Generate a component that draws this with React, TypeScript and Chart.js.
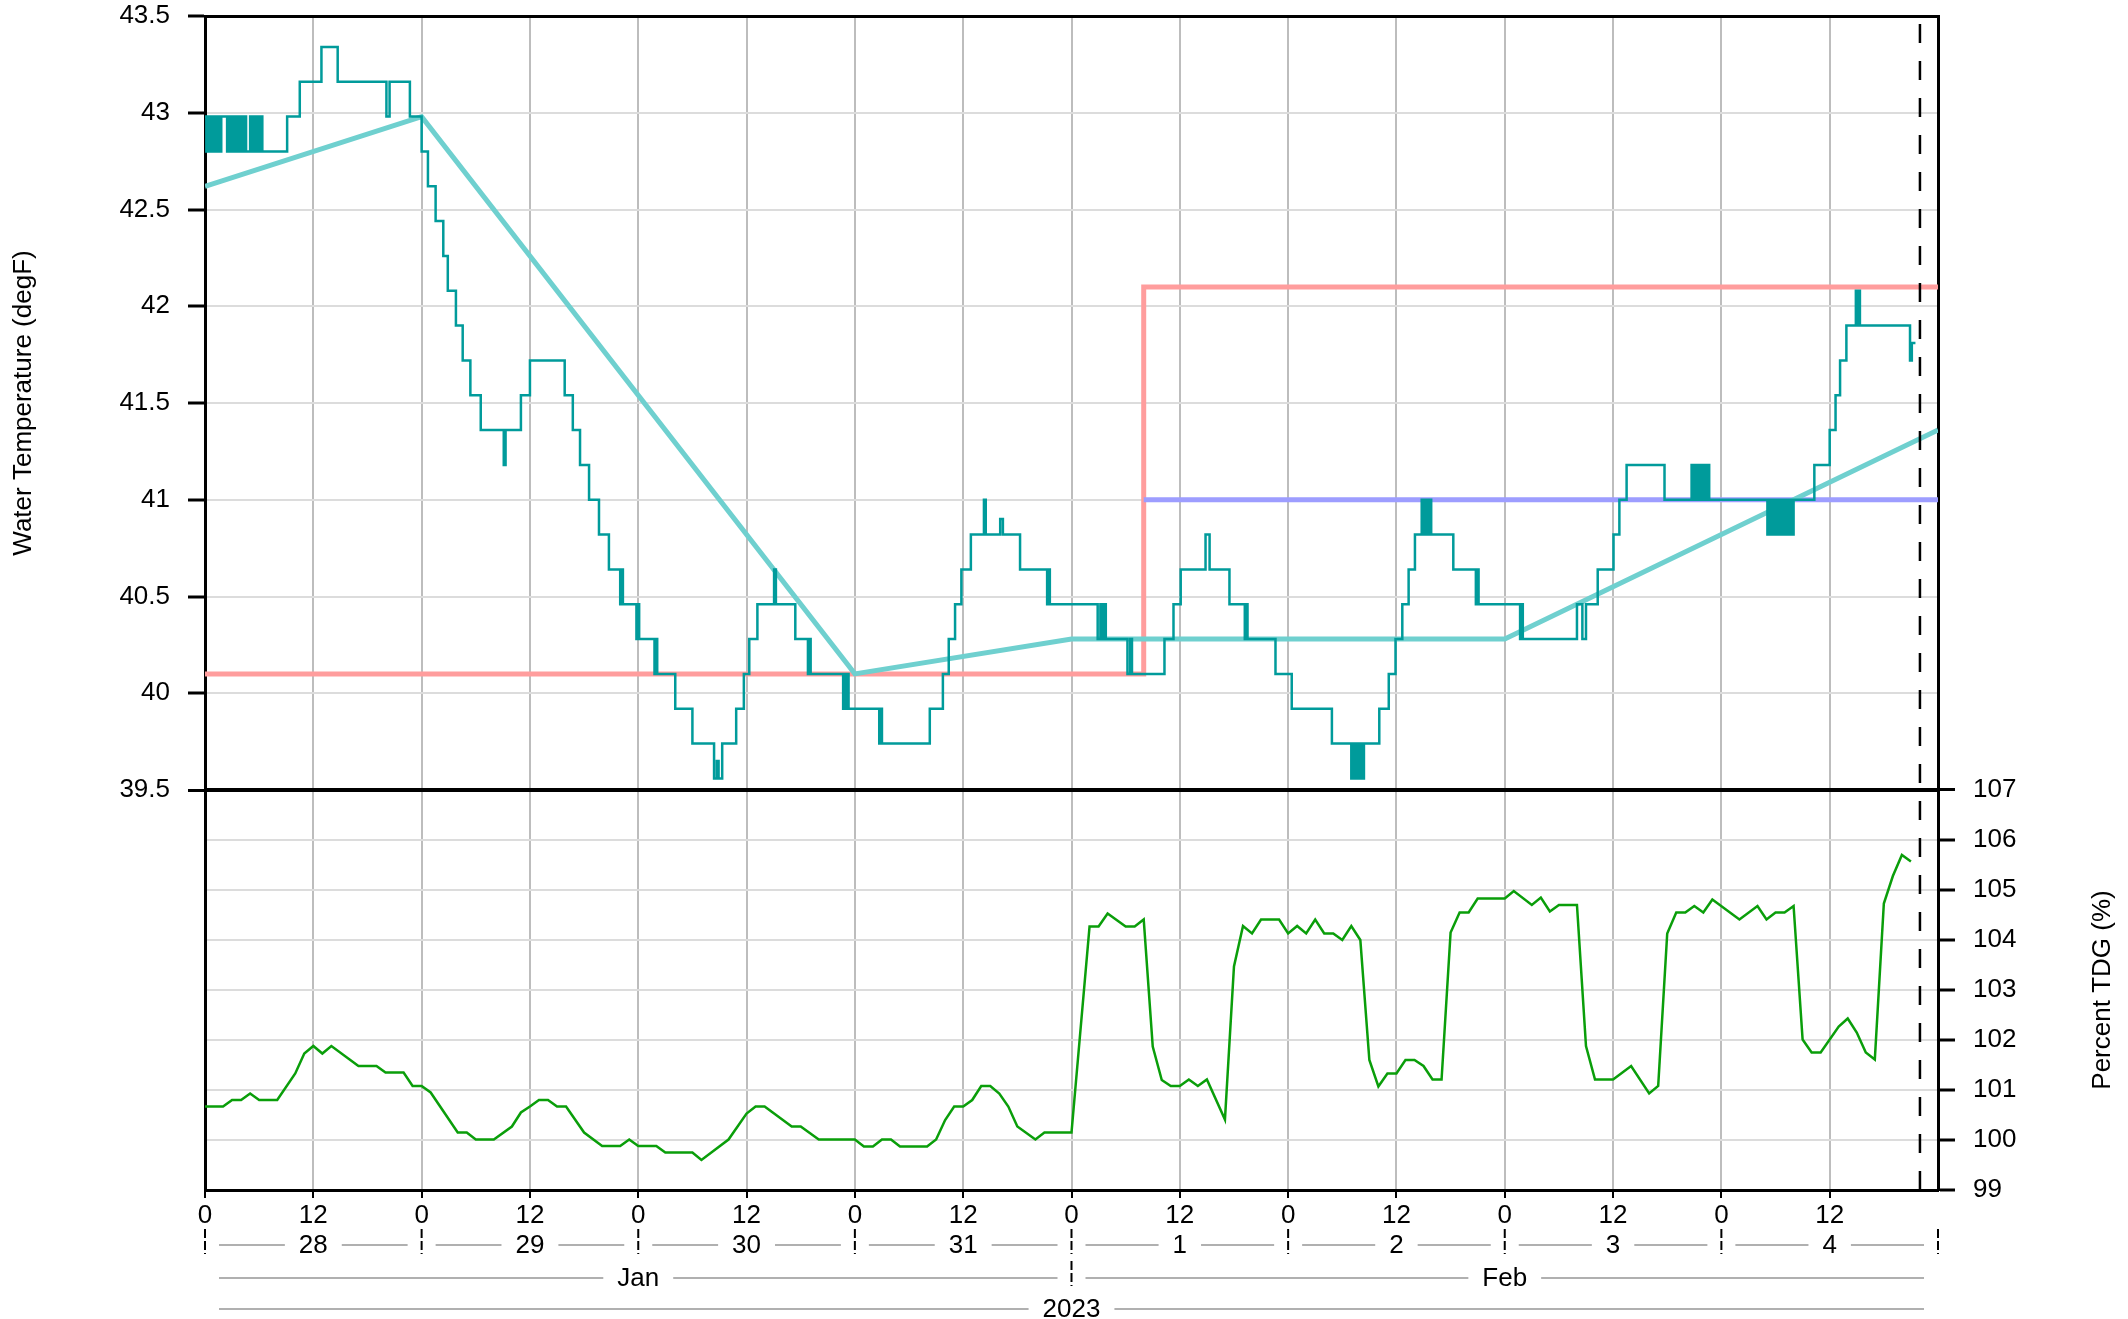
import React, { useEffect, useRef } from 'react';
import { Chart, registerables } from 'chart.js';

Chart.register(...registerables);

const FONT = '"Liberation Sans", Arial, Helvetica, sans-serif';

// ---- time axis (hours since 2023-01-28 00:00) ----
const HOUR_MIN = 0;
const HOUR_MAX = 192;
const HOUR_STEP = 12;
const HOUR_LABELS = ['0', '12'];
const DAY_LABELS = ['28', '29', '30', '31', '1', '2', '3', '4'];
const MONTH_LABELS = ['Jan', 'Feb'];
const MONTH_START_HOURS = [0, 96];
const YEAR_LABEL = '2023';
const NOW_HOUR = 190;

// ---- axes ----
const TEMP_TITLE = 'Water Temperature (degF)';
const TEMP_MIN = 39.5;
const TEMP_MAX = 43.5;
const TEMP_STEP = 0.5;
const TDG_TITLE = 'Percent TDG (%)';
const TDG_MIN = 99;
const TDG_MAX = 107;
const TDG_STEP = 1;

// ---- water temperature (change points, value holds until next point) ----
const TEMP_HOURS = [
  0, 0.15, 0.3, 0.45, 0.6, 0.75, 0.9, 1.05, 1.2, 1.35, 1.5, 1.65, 1.8, 2.45, 2.6, 2.75, 2.9, 3.05, 3.2, 3.35, 3.5,
  3.65, 3.8, 3.95, 4.1, 4.25, 4.4, 4.55, 5.0, 5.15, 5.3, 5.45, 5.6, 5.75, 5.9, 6.05, 6.2, 6.35, 6.45,
  9.1, 10.5, 12.9, 14.7, 20.1, 20.45, 22.7, 24.0, 24.7, 25.55, 26.4, 26.9, 27.8, 28.55, 29.4, 30.55, 33.1, 33.3, 35.0,
  36.0, 39.85, 40.75, 41.55, 42.55, 43.65, 44.75, 46.0, 46.15, 46.3, 47.8, 47.95, 48.1, 49.8, 49.95, 50.1, 52.1, 54.0,
  56.4, 56.7, 56.9, 57.3, 58.85, 59.7, 60.3, 61.2, 63.05, 63.25, 65.4, 66.8, 66.95, 67.1, 70.7, 70.85, 71.0, 71.15,
  71.3, 71.5, 74.7, 74.85, 75.0, 75.15, 80.3, 81.75, 82.4, 83.1, 83.8, 84.85, 86.3, 86.5, 88.1, 88.4, 90.3, 93.3,
  93.45, 93.6, 93.75, 98.9, 99.2, 99.4, 99.6, 99.8, 102.2, 102.5, 102.7, 106.3, 107.3, 108.1, 110.85, 111.3, 113.5,
  115.2, 115.35, 115.5, 115.65, 118.6, 120.4, 124.85, 127.0, 127.2, 127.4, 127.6, 127.8, 128.0, 128.2, 128.4, 128.6,
  130.1, 131.15, 131.9, 132.65, 133.35, 134.05, 134.8, 134.95, 135.1, 135.25, 135.4, 135.55, 135.7, 135.85, 136.0,
  138.3, 140.8, 140.95, 141.1, 141.25, 145.7, 145.85, 146.0, 146.15, 152.0, 152.6, 153.0, 154.3, 156.05, 156.7,
  157.5, 161.7, 164.7, 164.85, 165.0, 165.15, 165.3, 165.45, 165.6, 165.75, 165.9, 166.05, 166.2, 166.35, 166.5,
  166.65, 166.8, 173.1, 173.25, 173.4, 173.55, 173.7, 173.85, 174.0, 174.15, 174.3, 174.5, 174.65, 174.8, 174.95,
  175.1, 175.25, 175.4, 175.55, 175.7, 175.85, 176.0, 176.15, 178.3, 180.0, 180.65, 181.15, 181.85, 182.9, 183.05,
  183.2, 183.35, 183.5, 188.9, 189.1, 189.5,
];
const TEMP_VALUES = [
  42.98, 42.8, 42.98, 42.8, 42.98, 42.8, 42.98, 42.8, 42.98, 42.8, 42.98, 42.8, 42.98, 42.8, 42.98, 42.8, 42.98, 42.8, 42.98, 42.8, 42.98,
  42.8, 42.98, 42.8, 42.98, 42.8, 42.98, 42.8, 42.98, 42.8, 42.98, 42.8, 42.98, 42.8, 42.98, 42.8, 42.98, 42.8, 42.8,
  42.98, 43.16, 43.34, 43.16, 42.98, 43.16, 42.98, 42.8, 42.62, 42.44, 42.26, 42.08, 41.9, 41.72, 41.54, 41.36, 41.18, 41.36, 41.54,
  41.72, 41.54, 41.36, 41.18, 41.0, 40.82, 40.64, 40.46, 40.64, 40.46, 40.28, 40.46, 40.28, 40.1, 40.28, 40.1, 39.92, 39.74,
  39.56, 39.65, 39.56, 39.74, 39.92, 40.1, 40.28, 40.46, 40.64, 40.46, 40.28, 40.1, 40.28, 40.1, 39.92, 40.1, 39.92, 40.1,
  39.92, 39.92, 39.74, 39.92, 39.74, 39.74, 39.92, 40.1, 40.28, 40.46, 40.64, 40.82, 41.0, 40.82, 40.9, 40.82, 40.64, 40.46,
  40.64, 40.46, 40.46, 40.28, 40.46, 40.28, 40.46, 40.28, 40.1, 40.28, 40.1, 40.28, 40.46, 40.64, 40.82, 40.64, 40.46,
  40.28, 40.46, 40.28, 40.28, 40.1, 39.92, 39.74, 39.56, 39.74, 39.56, 39.74, 39.56, 39.74, 39.56, 39.74, 39.74,
  39.92, 40.1, 40.28, 40.46, 40.64, 40.82, 41.0, 40.82, 41.0, 40.82, 41.0, 40.82, 41.0, 40.82, 40.82,
  40.64, 40.46, 40.64, 40.46, 40.46, 40.28, 40.46, 40.28, 40.28, 40.46, 40.28, 40.46, 40.64, 40.82, 41.0,
  41.18, 41.0, 41.18, 41.0, 41.18, 41.0, 41.18, 41.0, 41.18, 41.0, 41.18, 41.0, 41.18, 41.0, 41.18,
  41.0, 41.0, 40.82, 41.0, 40.82, 41.0, 40.82, 41.0, 40.82, 41.0, 40.82, 41.0, 40.82, 41.0, 40.82,
  41.0, 40.82, 41.0, 40.82, 41.0, 40.82, 41.0, 41.0, 41.18, 41.36, 41.54, 41.72, 41.9, 42.08, 41.9,
  42.08, 41.9, 41.9, 41.72, 41.81, 41.81,
];

// ---- 7-day average temperature ----
const AVG_HOURS = [0, 24, 72, 96, 144, 192];
const AVG_VALUES = [42.62, 42.98, 40.1, 40.28, 40.28, 41.36];

// ---- criteria lines ----
const CRITERIA_HOURS = [0, 104, 104, 192];
const CRITERIA_VALUES = [40.1, 40.1, 42.1, 42.1];
const TARGET_HOURS = [104, 192];
const TARGET_VALUES = [41.0, 41.0];

// ---- percent TDG ----
const TDG_HOURS = [
  0, 2, 3, 4, 5, 6, 8, 10, 11, 12, 13, 14, 17, 19, 20, 22, 23, 24, 25, 28, 29, 30, 32, 34, 35, 36, 37, 38, 39, 40,
  42, 44, 46, 47, 48, 50, 51, 54, 55, 58, 60, 61, 62, 65, 66, 68, 72, 73, 74, 75, 76, 77, 80, 81, 82, 83, 84, 85, 86,
  87, 88, 89, 90, 92, 93, 96, 98, 99, 100, 102, 103, 104, 105, 106, 107, 108, 109, 110, 111, 113, 114, 115, 116, 117,
  119, 120, 121, 122, 123, 124, 125, 126, 127, 128, 129, 130, 131, 132, 133, 134, 135, 136, 137, 138, 139, 140, 141,
  144, 145, 147, 148, 149, 150, 152, 153, 154, 156, 158, 160, 161, 162, 163, 164, 165, 166, 167, 170, 172, 173, 174,
  175, 176, 177, 178, 179, 181, 182, 183, 184, 185, 186, 187, 188, 189,
];
const TDG_VALUES = [
  100.67, 100.67, 100.8, 100.8, 100.93, 100.8, 100.8, 101.33, 101.73, 101.88, 101.73, 101.88, 101.48, 101.48, 101.35,
  101.35, 101.08, 101.08, 100.95, 100.15, 100.15, 100.01, 100.01, 100.27, 100.55, 100.67, 100.8, 100.8, 100.67, 100.67,
  100.15, 99.88, 99.88, 100.01, 99.88, 99.88, 99.75, 99.75, 99.6, 100.01, 100.53, 100.67, 100.67, 100.27, 100.27,
  100.01, 100.01, 99.87, 99.87, 100.01, 100.01, 99.87, 99.87, 100.01, 100.4, 100.67, 100.67, 100.8, 101.08, 101.08,
  100.93, 100.67, 100.27, 100.01, 100.15, 100.15, 104.27, 104.27, 104.53, 104.27, 104.27, 104.41, 101.87, 101.2,
  101.08, 101.08, 101.21, 101.08, 101.21, 100.41, 103.47, 104.28, 104.13, 104.41, 104.41, 104.13, 104.28, 104.13,
  104.41, 104.13, 104.13, 104.0, 104.28, 104.0, 101.6, 101.07, 101.33, 101.33, 101.6, 101.6, 101.48, 101.21, 101.21,
  104.15, 104.55, 104.55, 104.83, 104.83, 104.98, 104.7, 104.85, 104.57, 104.7, 104.7, 101.88, 101.21, 101.21, 101.48,
  100.93, 101.08, 104.13, 104.55, 104.55, 104.68, 104.55, 104.81, 104.41, 104.68, 104.41, 104.55, 104.55, 104.68,
  102.01, 101.75, 101.75, 102.27, 102.43, 102.15, 101.75, 101.61, 104.73, 105.28, 105.7, 105.57,
];

// ---- layout (share of the plot height used by the temperature panel) ----
const TOP_SHARE = 774 / 1174;

const pts = (xs: number[], ys: number[]) => xs.map((x, i) => ({ x, y: ys[i] }));
const near = (a: number, b: number) => Math.abs(a - b) < 1e-6;

const decorPlugin = {
  id: 'decor',
  afterDraw(chart: any) {
    const { ctx, chartArea, scales } = chart;
    const xs = scales.x;
    const ys = scales.y;
    const ys2 = scales.y2;
    ctx.save();

    // "now" dashed line
    const nx = xs.getPixelForValue(NOW_HOUR);
    ctx.strokeStyle = '#000';
    ctx.lineWidth = 2.5;
    ctx.setLineDash([19, 18]);
    ctx.lineDashOffset = 29;
    ctx.beginPath();
    ctx.moveTo(nx, chartArea.top);
    ctx.lineTo(nx, chartArea.bottom);
    ctx.stroke();
    ctx.setLineDash([]);
    ctx.lineDashOffset = 0;

    ctx.font = `26px ${FONT}`;
    ctx.fillStyle = '#000';
    ctx.textAlign = 'center';
    ctx.textBaseline = 'middle';

    // axis titles
    const t1 = (ys.getPixelForValue(TEMP_MIN) + ys.getPixelForValue(TEMP_MAX)) / 2;
    ctx.save();
    ctx.translate(24, t1);
    ctx.rotate(-Math.PI / 2);
    ctx.fillText(TEMP_TITLE, 0, 0);
    ctx.restore();
    const t2 = (ys2.getPixelForValue(TDG_MIN) + ys2.getPixelForValue(TDG_MAX)) / 2;
    ctx.save();
    ctx.translate(2103, t2);
    ctx.rotate(-Math.PI / 2);
    ctx.fillText(TDG_TITLE, 0, 0);
    ctx.restore();

    const gap = 14;
    const grayLine = (a: number, b: number, y: number) => {
      if (b - a <= 0) return;
      ctx.strokeStyle = '#b0b0b0';
      ctx.lineWidth = 2;
      ctx.beginPath();
      ctx.moveTo(a, y);
      ctx.lineTo(b, y);
      ctx.stroke();
    };
    const labelled = (label: string, a: number, b: number, y: number) => {
      const c = (a + b) / 2;
      const w = ctx.measureText(label).width;
      ctx.fillStyle = '#000';
      ctx.fillText(label, c, y + 1);
      grayLine(a + gap, c - w / 2 - gap, y);
      grayLine(c + w / 2 + gap, b - gap, y);
    };
    const sep = (x: number, y1: number, y2: number) => {
      ctx.strokeStyle = '#000';
      ctx.lineWidth = 2;
      ctx.setLineDash([9, 3]);
      ctx.beginPath();
      ctx.moveTo(x, y1);
      ctx.lineTo(x, y2);
      ctx.stroke();
      ctx.setLineDash([]);
    };

    const b = chartArea.bottom;
    // day row
    const dayY = b + 55;
    DAY_LABELS.forEach((d, i) => {
      const a = xs.getPixelForValue(i * 24);
      const e = xs.getPixelForValue((i + 1) * 24);
      labelled(d, a, e, dayY);
    });
    for (let i = 0; i <= DAY_LABELS.length; i++) {
      const px = xs.getPixelForValue(i * 24);
      sep(px, b + 39, b + 64);
    }
    // month row
    const monY = b + 88;
    MONTH_LABELS.forEach((m, i) => {
      const s = MONTH_START_HOURS[i];
      const e = i + 1 < MONTH_START_HOURS.length ? MONTH_START_HOURS[i + 1] : HOUR_MAX;
      labelled(m, xs.getPixelForValue(s), xs.getPixelForValue(e), monY);
      if (s > HOUR_MIN) sep(xs.getPixelForValue(s), b + 71, b + 96);
    });
    // year row
    const yrY = b + 119;
    labelled(YEAR_LABEL, xs.getPixelForValue(HOUR_MIN), xs.getPixelForValue(HOUR_MAX), yrY);

    ctx.restore();
  },
};

export default function App() {
  const ref = useRef<HTMLCanvasElement | null>(null);

  useEffect(() => {
    if (!ref.current) return;
    const tickFont = { family: FONT, size: 26 };
    const chart = new Chart(ref.current, {
      type: 'line',
      data: {
        datasets: [
          {
            label: 'criteria',
            data: pts(CRITERIA_HOURS, CRITERIA_VALUES),
            borderColor: '#ff9d9d',
            borderWidth: 5,
            pointRadius: 0,
            yAxisID: 'y',
            order: 4,
          },
          {
            label: 'target',
            data: pts(TARGET_HOURS, TARGET_VALUES),
            borderColor: '#9d9dff',
            borderWidth: 5,
            pointRadius: 0,
            yAxisID: 'y',
            order: 3,
          },
          {
            label: '7-day average',
            data: pts(AVG_HOURS, AVG_VALUES),
            borderColor: '#6fd0cf',
            borderWidth: 5,
            pointRadius: 0,
            yAxisID: 'y',
            order: 2,
          },
          {
            label: 'water temperature',
            data: pts(TEMP_HOURS, TEMP_VALUES),
            borderColor: '#009b9b',
            borderWidth: 2.5,
            pointRadius: 0,
            stepped: 'before',
            yAxisID: 'y',
            order: 1,
          },
          {
            label: 'percent TDG',
            data: pts(TDG_HOURS, TDG_VALUES),
            borderColor: '#0a9e0a',
            borderWidth: 2.5,
            pointRadius: 0,
            yAxisID: 'y2',
            order: 0,
          },
        ],
      },
      options: {
        animation: false,
        responsive: false,
        devicePixelRatio: 1,
        layout: { padding: { top: 16, left: 0, right: 0, bottom: 0 } },
        plugins: { legend: { display: false }, tooltip: { enabled: false } },
        elements: { line: { tension: 0, fill: false } },
        scales: {
          x: {
            type: 'linear',
            position: 'bottom',
            min: HOUR_MIN,
            max: HOUR_MAX,
            afterBuildTicks: (s: any) => {
              s.ticks = s.ticks.filter((t: any) => t.value < HOUR_MAX - 1e-6);
            },
            afterFit: (s: any) => {
              s.height = 129;
              s.paddingLeft = 0;
              s.paddingRight = 0;
            },
            ticks: {
              stepSize: HOUR_STEP,
              autoSkip: false,
              maxRotation: 0,
              padding: 2,
              color: '#000',
              font: tickFont,
              callback: (v: any) => HOUR_LABELS[Math.round(Number(v) / HOUR_STEP) % 2],
            },
            grid: { color: '#bdbdbd', lineWidth: 2, tickColor: '#000', tickLength: 8, tickWidth: 2 },
            border: { color: '#000', width: 3 },
          },
          xTop: {
            type: 'linear',
            position: 'top',
            min: HOUR_MIN,
            max: HOUR_MAX,
            afterFit: (s: any) => {
              s.height = 0;
            },
            ticks: { display: false },
            grid: { display: false, drawTicks: false },
            border: { color: '#000', width: 3 },
          },
          y: {
            type: 'linear',
            position: 'left',
            min: TEMP_MAX - (TEMP_MAX - TEMP_MIN) / TOP_SHARE,
            max: TEMP_MAX,
            afterBuildTicks: (s: any) => {
              s.ticks = s.ticks.filter((t: any) => t.value >= TEMP_MIN - 1e-6);
            },
            afterFit: (s: any) => {
              s.width = 205;
              s.paddingTop = 0;
              s.paddingBottom = 0;
            },
            ticks: {
              stepSize: TEMP_STEP,
              autoSkip: false,
              padding: 18,
              color: '#000',
              font: tickFont,
              callback: (v: any) => String(Math.round(Number(v) * 10) / 10),
            },
            grid: {
              color: (c: any) => (c.tick && near(c.tick.value, TEMP_MIN) ? '#000' : '#dcdcdc'),
              lineWidth: (c: any) => (c.tick && near(c.tick.value, TEMP_MIN) ? 3 : 2),
              tickColor: '#000',
              tickLength: 17,
              tickWidth: 3,
            },
            border: { color: '#000', width: 3 },
          },
          y2: {
            type: 'linear',
            position: 'right',
            min: TDG_MIN,
            max: TDG_MIN + (TDG_MAX - TDG_MIN) / (1 - TOP_SHARE),
            afterBuildTicks: (s: any) => {
              s.ticks = s.ticks.filter((t: any) => t.value <= TDG_MAX + 1e-6);
            },
            afterFit: (s: any) => {
              s.width = 190;
              s.paddingTop = 0;
              s.paddingBottom = 0;
            },
            ticks: {
              stepSize: TDG_STEP,
              autoSkip: false,
              padding: 18,
              color: '#000',
              font: tickFont,
              callback: (v: any) => String(Math.round(Number(v))),
            },
            grid: {
              color: (c: any) => (c.tick && near(c.tick.value, TDG_MAX) ? '#000' : '#dcdcdc'),
              lineWidth: (c: any) => (c.tick && near(c.tick.value, TDG_MAX) ? 3 : 2),
              tickColor: '#000',
              tickLength: 17,
              tickWidth: 3,
            },
            border: { color: '#000', width: 3 },
          },
        },
      } as any,
      plugins: [decorPlugin],
    });
    return () => chart.destroy();
  }, []);

  return (
    <div style={{ position: 'absolute', left: 0, top: 0, width: 2128, height: 1319, background: '#fff' }}>
      <canvas ref={ref} width={2128} height={1319} style={{ display: 'block', width: 2128, height: 1319 }} />
    </div>
  );
}
